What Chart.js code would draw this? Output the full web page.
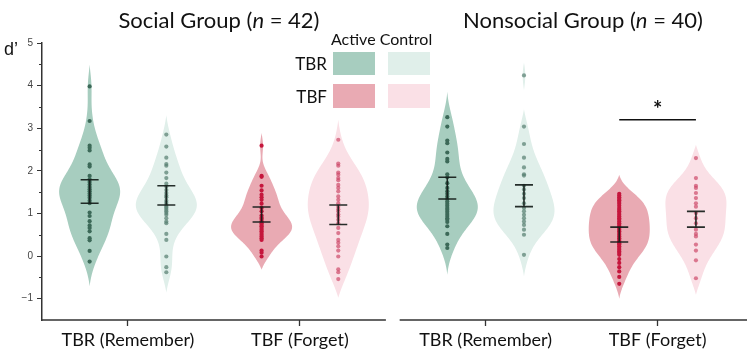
<!DOCTYPE html>
<html><head><meta charset="utf-8">
<script src="https://cdn.jsdelivr.net/npm/chart.js@4"></script>
<style>
html,body{margin:0;padding:0;background:#fff;}
#wrap{position:relative;width:750px;height:355px;overflow:hidden;font-family:Lato,sans-serif;color:#111;}
#c{position:absolute;left:0;top:0;}
.t{position:absolute;white-space:nowrap;}
.sw{position:absolute;}
</style></head><body>
<div id="wrap">
<canvas id="c" width="750" height="355"></canvas>
<div class="t" style="left:69px;width:300px;text-align:center;top:9px;font-size:22px;line-height:22px;">Social Group (<i>n</i> = 42)</div>
<div class="t" style="left:433px;width:300px;text-align:center;top:9px;font-size:22px;line-height:22px;">Nonsocial Group (<i>n</i> = 40)</div>
<div class="t" style="left:4px;top:40px;font-family:'Liberation Sans',Arial,sans-serif;font-size:18px;line-height:18px;">d’</div>
<div class="t" style="left:331px;top:31px;font-size:16px;line-height:16px;">Active Control</div>
<div class="t" style="left:290px;width:37px;text-align:right;top:55px;font-size:17px;line-height:17px;">TBR</div>
<div class="t" style="left:290px;width:37px;text-align:right;top:88px;font-size:17px;line-height:17px;">TBF</div>
<div class="sw" style="left:333px;top:52px;width:42px;height:23px;background:#a7cdbf;"></div>
<div class="sw" style="left:388px;top:52px;width:42px;height:23px;background:#e0efea;"></div>
<div class="sw" style="left:333px;top:84px;width:42px;height:24px;background:#e9aab3;"></div>
<div class="sw" style="left:388px;top:84px;width:42px;height:24px;background:#fae0e6;"></div>
</div>
<script>
// ---- data ----
const categories = ['TBR (Remember)', 'TBF (Forget)'];
const groups = ['Social Group', 'Nonsocial Group'];
const conditions = ['Active', 'Control'];
const yTickValues = [-1, 0, 1, 2, 3, 4, 5];

const socialTbrActive = [3.98, 3.17, 2.59, 2.54, 2.48, 2.15, 2.10, 1.88, 1.80, 1.74, 1.68, 1.62, 1.57, 1.52, 1.47, 1.42, 1.37, 1.30, 1.24, 1.02, 0.94, 0.82, 0.72, 0.66, 0.58, 0.42, 0.37, 0.12, -0.13];
const socialTbrControl = [2.85, 2.57, 2.31, 2.16, 2.12, 1.96, 1.83, 1.70, 1.63, 1.55, 1.48, 1.42, 1.38, 1.30, 1.25, 1.20, 1.16, 1.13, 1.09, 1.05, 1.01, 0.97, 0.89, 0.81, 0.77, 0.52, 0.38, -0.01, -0.26, -0.38];
const socialTbfActive = [2.59, 1.88, 1.86, 1.65, 1.54, 1.44, 1.38, 1.32, 1.23, 1.13, 1.05, 0.95, 0.90, 0.87, 0.82, 0.77, 0.73, 0.70, 0.66, 0.62, 0.58, 0.54, 0.50, 0.46, 0.42, 0.38, 0.13, 0.08, -0.01];
const socialTbfControl = [2.73, 2.17, 2.12, 1.96, 1.91, 1.83, 1.78, 1.67, 1.60, 1.52, 1.40, 1.32, 1.24, 1.16, 1.10, 1.05, 0.98, 0.93, 0.85, 0.77, 0.66, 0.54, 0.38, 0.31, 0.23, 0.13, -0.01, -0.31, -0.38, -0.54];
const nonsocialTbrActive = [3.26, 3.04, 2.71, 2.65, 2.43, 2.28, 2.22, 1.92, 1.85, 1.71, 1.60, 1.52, 1.46, 1.40, 1.34, 1.28, 1.23, 1.18, 1.13, 1.09, 1.04, 0.99, 0.94, 0.89, 0.85, 0.80, 0.70, 0.52, 0.27, 0.19];
const nonsocialTbrControl = [4.24, 3.04, 2.63, 2.31, 2.08, 1.92, 1.89, 1.65, 1.56, 1.46, 1.36, 1.24, 1.13, 1.05, 0.97, 0.89, 0.81, 0.73, 0.62, 0.50, 0.03];
const nonsocialTbfActive = [1.46, 1.42, 1.38, 1.34, 1.31, 1.27, 1.23, 1.18, 1.13, 1.09, 1.05, 1.01, 0.97, 0.93, 0.89, 0.85, 0.81, 0.77, 0.73, 0.69, 0.66, 0.62, 0.58, 0.54, 0.50, 0.46, 0.42, 0.38, 0.34, 0.30, 0.27, 0.23, 0.19, 0.15, 0.11, 0.07, 0.03, -0.07, -0.16, -0.26, -0.36, -0.49, -0.65];
const nonsocialTbfControl = [2.30, 1.83, 1.65, 1.60, 1.48, 1.36, 1.24, 1.16, 1.01, 0.89, 0.77, 0.62, 0.52, 0.46, 0.27, 0.13, -0.10, -0.52];

// 95% CI bars, same order as the series above
const ciHigh = [1.79, 1.65, 1.15, 1.20, 1.85, 1.67, 0.68, 1.05];
const ciLow  = [1.24, 1.20, 0.80, 0.74, 1.34, 1.16, 0.33, 0.68];
// violin extents and smoothing
const violinTop    = [4.49, 3.31, 2.89, 3.20, 3.86, 4.54, 1.91, 2.61];
const violinBottom = [-0.71, -0.86, -0.32, -0.98, -0.44, -0.48, -1.00, -0.91];
const bandwidth    = [0.36, 0.32, 0.23, 0.40, 0.33, 0.34, 0.25, 0.30];
// significance bracket (Nonsocial, TBF Active vs Control)
const sigLevel = 3.2;
const sigLabel = '*';

// ---- layout helpers ----
const series = [socialTbrActive, socialTbrControl, socialTbfActive, socialTbfControl,
                nonsocialTbrActive, nonsocialTbrControl, nonsocialTbfActive, nonsocialTbfControl];
const panelOffset = [0, 2.08];
const condOffset = 0.223;
const halfMax = 0.1775;
const fills = ['#a7cdbf', '#e0efea', '#e9aab3', '#fae0e6'];
const dotColors = ['#3c6958', 'rgba(88,128,113,0.72)', '#c5163c', 'rgba(204,70,102,0.68)'];

function centerOf(i) {
  const g = Math.floor(i / 4), cat = Math.floor((i % 4) / 2), cond = i % 2;
  return panelOffset[g] + cat + (cond ? condOffset : -condOffset);
}
const tickPositions = [];
panelOffset.forEach(o => categories.forEach((c, k) => tickPositions.push(o + k)));

const datasets = series.map((vals, i) => ({
  type: 'scatter',
  data: vals.map(v => ({ x: centerOf(i), y: v })),
  pointRadius: 2.1,
  pointBorderWidth: 0,
  pointBackgroundColor: dotColors[i % 4],
  pointHoverRadius: 2.1
}));
datasets.push({
  type: 'line',
  data: [{ x: centerOf(6), y: sigLevel }, { x: centerOf(7), y: sigLevel }],
  borderColor: '#111', borderWidth: 1.5, pointRadius: 0, fill: false
});

const violinPlugin = {
  id: 'violins',
  beforeDatasetsDraw(chart) {
    const { ctx, scales: { x, y } } = chart;
    series.forEach((vals, i) => {
      const n = 160, pts = [];
      let maxD = 0;
      for (let k = 0; k <= n; k++) {
        const yy = violinBottom[i] + (violinTop[i] - violinBottom[i]) * k / n;
        let d = 0;
        vals.forEach(p => { const u = (yy - p) / bandwidth[i]; d += Math.exp(-0.5 * u * u); });
        pts.push([yy, d]);
        if (d > maxD) maxD = d;
      }
      // taper both ends to a point
      const d0 = pts[0][1], d1 = pts[n][1];
      pts.forEach((p, k) => { p[1] = Math.max(0, p[1] - (d0 + (d1 - d0) * k / n)); });
      maxD = Math.max(...pts.map(p => p[1]));
      const c = centerOf(i);
      ctx.save();
      ctx.beginPath();
      pts.forEach(([yy, d], k) => {
        const px = x.getPixelForValue(c + halfMax * d / maxD), py = y.getPixelForValue(yy);
        k ? ctx.lineTo(px, py) : ctx.moveTo(px, py);
      });
      for (let k = pts.length - 1; k >= 0; k--) {
        const [yy, d] = pts[k];
        ctx.lineTo(x.getPixelForValue(c - halfMax * d / maxD), y.getPixelForValue(yy));
      }
      ctx.closePath();
      ctx.fillStyle = fills[i % 4];
      ctx.fill();
      ctx.restore();
    });
  },
  afterDatasetsDraw(chart) {
    const { ctx, scales: { x, y } } = chart;
    ctx.save();
    ctx.strokeStyle = 'rgba(20,28,25,0.92)';
    ctx.lineWidth = 1.6;
    series.forEach((vals, i) => {
      const cx = x.getPixelForValue(centerOf(i));
      const yh = y.getPixelForValue(ciHigh[i]), yl = y.getPixelForValue(ciLow[i]);
      ctx.beginPath();
      ctx.moveTo(cx, yh); ctx.lineTo(cx, yl);
      ctx.moveTo(cx - 9, yh); ctx.lineTo(cx + 9, yh);
      ctx.moveTo(cx - 9, yl); ctx.lineTo(cx + 9, yl);
      ctx.stroke();
    });
    // significance star
    ctx.fillStyle = '#111';
    ctx.font = 'bold 22px Lato, sans-serif';
    ctx.textAlign = 'center';
    ctx.textBaseline = 'middle';
    ctx.fillText(sigLabel, (x.getPixelForValue(centerOf(6)) + x.getPixelForValue(centerOf(7))) / 2, y.getPixelForValue(sigLevel) - 10);
    ctx.restore();
  },
  afterDraw(chart) {
    const { ctx, scales: { x, y }, chartArea } = chart;
    ctx.save();
    ctx.strokeStyle = '#333';
    ctx.lineWidth = 1.5;
    const yb = chartArea.bottom;
    ctx.beginPath();
    ctx.moveTo(x.getPixelForValue(panelOffset[0] - 0.5) - 0.75, yb);
    ctx.lineTo(x.getPixelForValue(panelOffset[0] + 1.5), yb);
    ctx.moveTo(x.getPixelForValue(panelOffset[1] - 0.5), yb);
    ctx.lineTo(x.getPixelForValue(panelOffset[1] + 1.52), yb);
    ctx.stroke();
    // minor y ticks
    ctx.lineWidth = 1;
    ctx.beginPath();
    y.ticks.forEach(t => {
      if (!Number.isInteger(t.value) && t.value > y.min) {
        const py = Math.round(y.getPixelForValue(t.value)) + 0.5;
        ctx.moveTo(chartArea.left - 3, py); ctx.lineTo(chartArea.left, py);
      }
    });
    ctx.stroke();
    ctx.restore();
  }
};

new Chart(document.getElementById('c'), {
  data: { datasets },
  options: {
    responsive: false,
    animation: false,
    devicePixelRatio: 1,
    layout: { padding: { top: 43, right: 3, left: 0, bottom: 0 } },
    plugins: { legend: { display: false }, tooltip: { enabled: false } },
    scales: {
      x: {
        type: 'linear', min: -0.5, max: 3.6,
        afterFit(s) { s.height = 35; },
        afterBuildTicks(s) { s.ticks = tickPositions.map(v => ({ value: v })); },
        border: { display: false },
        grid: { display: true, drawOnChartArea: false, drawTicks: true, tickLength: 6, tickColor: '#333', tickWidth: 1.3 },
        ticks: {
          autoSkip: false, maxRotation: 0, padding: 3,
          color: '#111', font: { family: 'Lato', size: 18 },
          callback: (v, idx) => categories[idx % categories.length]
        }
      },
      y: {
        type: 'linear', min: -1.5, max: 5,
        afterFit(s) { s.width = 42; },
        border: { display: true, color: '#333', width: 1.5 },
        grid: {
          display: true, drawOnChartArea: false, drawTicks: true, tickLength: 5, tickWidth: 1,
          tickColor: c => Number.isInteger(c.tick.value) && yTickValues.includes(c.tick.value) ? '#333' : 'rgba(0,0,0,0)'
        },
        ticks: {
          stepSize: 0.5, padding: 4, color: '#444',
          font: { family: 'Liberation Sans', size: 10 },
          callback: v => yTickValues.includes(v) ? (v < 0 ? '\u2212' + Math.abs(v) : String(v)) : ''
        }
      }
    }
  },
  plugins: [violinPlugin]
});
</script>
</body></html>
